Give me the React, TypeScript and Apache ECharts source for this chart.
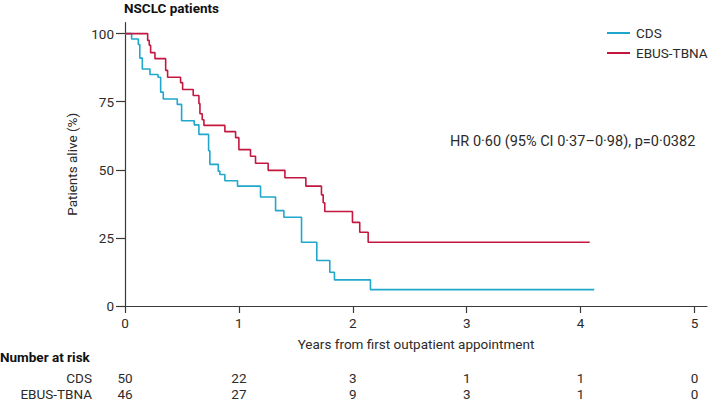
import React, { useEffect, useRef } from "react";
import * as echarts from "echarts";

// Kaplan-Meier step points (years, % alive)
const cdsTime = [0, 0.058, 0.117, 0.13, 0.152, 0.219, 0.29, 0.313, 0.336, 0.459, 0.497, 0.608, 0.649, 0.734, 0.745, 0.819, 0.833, 0.877, 0.988, 1.19, 1.322, 1.395, 1.55, 1.684, 1.798, 1.839, 2.155, 4.12];
const cdsSurv = [100, 98, 96, 91, 87, 85, 84, 78.5, 76, 74, 68, 66.5, 63, 57, 52, 49.5, 48.3, 46, 44, 40, 35, 32.6, 23.4, 16.7, 12.4, 9.6, 6, 6];

const ebusTime = [0, 0.199, 0.213, 0.225, 0.263, 0.357, 0.374, 0.488, 0.506, 0.599, 0.649, 0.658, 0.678, 0.693, 0.877, 0.971, 1.0, 1.102, 1.146, 1.257, 1.404, 1.588, 1.725, 1.74, 1.754, 1.997, 2.061, 2.135, 4.08];
const ebusSurv = [100, 97.5, 95.7, 93, 90.8, 86.5, 84, 82, 79.5, 77.3, 74.3, 70.6, 68.4, 66.3, 64, 61.8, 57.4, 55, 52.4, 49.8, 47.1, 44, 40.8, 37.9, 34.7, 30.7, 27.1, 23.4, 23.4];

const yearTicks = [0, 1, 2, 3, 4, 5];
const pctTicks = [0, 25, 50, 75, 100];
const cdsAtRisk = [50, 22, 3, 1, 1, 0];
const ebusAtRisk = [46, 27, 9, 3, 1, 0];

const seriesNames = ["CDS", "EBUS-TBNA"];
const titleText = "NSCLC patients";
const hrText = "HR 0·60 (95% CI 0·37–0·98), p=0·0382";
const xName = "Years from first outpatient appointment";
const yName = "Patients alive (%)";
const riskTitle = "Number at risk";

const FONT = "Roboto";
const FS = 13.5;
const TXT = "#2b2b2b";
const AX = "#3a3a3a";
const BLUE = "#1fa8cc";
const RED = "#c3173f";

export default function App() {
  const ref = useRef<HTMLDivElement>(null);
  useEffect(() => {
    if (!ref.current) return;
    const chart = echarts.init(ref.current, null, { renderer: "svg" });
    const riskAxis = (arr: number[], name: string, offset: number) => ({
      type: "value",
      min: 0,
      max: 5.11,
      position: "bottom",
      offset,
      name,
      nameLocation: "start",
      nameGap: 33,
      nameTextStyle: { fontFamily: FONT, fontSize: FS, color: TXT, verticalAlign: "middle", align: "right" },
      axisLine: { show: false },
      axisTick: { show: false },
      splitLine: { show: false },
      axisLabel: {
        customValues: yearTicks,
        margin: 0,
        verticalAlign: "middle",
        fontFamily: FONT,
        fontSize: FS,
        color: TXT,
        formatter: (v: number) => {
          const i = yearTicks.indexOf(Math.round(v));
          return i >= 0 ? String(arr[i]) : "";
        },
      },
    });
    chart.setOption({
      animation: false,
      backgroundColor: "#ffffff",
      title: {
        text: titleText,
        left: 124,
        top: 1,
        padding: 0,
        textStyle: { fontFamily: FONT, fontSize: 13.5, fontWeight: "bold", color: "#111" },
      },
      legend: {
        orient: "vertical",
        left: 607,
        top: 26,
        padding: 0,
        itemWidth: 23,
        itemHeight: 2,
        itemGap: 6,
        icon: "rect",
        data: seriesNames,
        textStyle: { fontFamily: FONT, fontSize: FS, color: TXT, padding: [0, 0, 0, 1] },
      },
      grid: { left: 125, right: 2, top: 22.7, bottom: 96, containLabel: false },
      xAxis: [
        {
          type: "value",
          min: 0,
          max: 5.11,
          name: xName,
          nameLocation: "middle",
          nameGap: 31,
          nameTextStyle: { fontFamily: FONT, fontSize: FS, color: TXT },
          axisLine: { lineStyle: { color: AX, width: 1.2 } },
          axisTick: { customValues: yearTicks, length: 7, lineStyle: { color: AX, width: 1.2 } },
          splitLine: { show: false },
          axisLabel: {
            customValues: yearTicks,
            margin: 10,
            fontFamily: FONT,
            fontSize: FS,
            color: TXT,
          },
        },
        riskAxis(cdsAtRisk, seriesNames[0], 72),
        riskAxis(ebusAtRisk, seriesNames[1], 88),
      ],
      yAxis: {
        type: "value",
        min: 0,
        max: 104,
        name: yName,
        nameLocation: "middle",
        nameGap: 46,
        nameTextStyle: { fontFamily: FONT, fontSize: FS, color: TXT },
        axisLine: { show: true, lineStyle: { color: AX, width: 1.2 } },
        axisTick: { show: true, customValues: pctTicks, length: 9, lineStyle: { color: AX, width: 1.2 } },
        splitLine: { show: false },
        axisLabel: {
          customValues: pctTicks,
          margin: 11,
          fontFamily: FONT,
          fontSize: FS,
          color: TXT,
        },
      },
      series: [
        {
          name: seriesNames[0],
          type: "line",
          step: "end",
          symbol: "none",
          color: BLUE,
          lineStyle: { color: BLUE, width: 1.6 },
          data: cdsTime.map((t, i) => [t, cdsSurv[i]]),
        },
        {
          name: seriesNames[1],
          type: "line",
          step: "end",
          symbol: "none",
          color: RED,
          lineStyle: { color: RED, width: 1.6 },
          data: ebusTime.map((t, i) => [t, ebusSurv[i]]),
        },
      ],
      graphic: [
        {
          type: "text",
          left: 450,
          top: 134,
          style: { text: hrText, fontFamily: FONT, fontSize: 14.5, fill: TXT },
        },
        {
          type: "text",
          left: 0,
          top: 350,
          style: { text: riskTitle, fontFamily: FONT, fontSize: 13.5, fontWeight: "bold", fill: "#111" },
        },
      ],
    });
    return () => chart.dispose();
  }, []);
  return <div ref={ref} style={{ position: "fixed", left: 0, top: 0, width: 709, height: 402 }} />;
}
